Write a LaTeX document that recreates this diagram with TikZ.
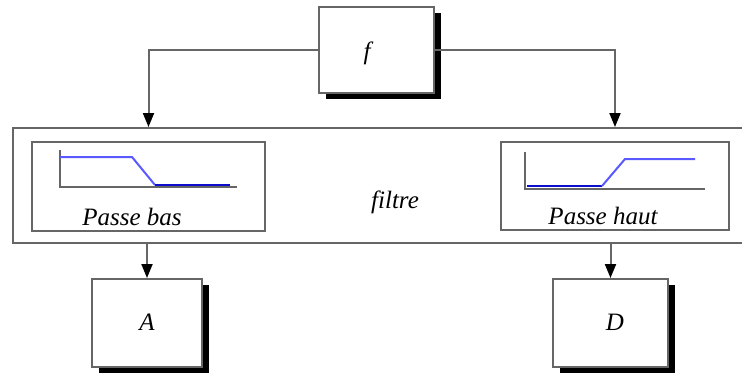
\documentclass[tikz,border=0pt]{standalone}
\usepackage{fontspec}
\setmainfont{Liberation Serif}
\usepackage{xcolor}
\definecolor{edge}{rgb}{0.4,0.4,0.4}
\definecolor{lightblue}{rgb}{0.35,0.35,1}
\definecolor{darkblue}{rgb}{0.05,0.05,0.8}
\usepackage{tikz}
\usetikzlibrary{arrows.meta, calc, positioning, shadows}

\tikzset{
  box/.style={draw=edge, line width=2pt, fill=white, inner sep=0pt},
  shadowbox/.style={box, drop shadow={shadow xshift=7pt, shadow yshift=-6pt, opacity=1, fill=black}},
  lbl/.style={font=\fontsize{25}{29}\selectfont\itshape, inner sep=0pt},
  arr/.style={draw=edge, line width=2pt, -{Triangle[black, length=14pt, width=11pt]}},
  axis/.style={draw=edge, line width=1.8pt},
}

\begin{document}
\begin{tikzpicture}[x=1pt, y=-1pt]
    \useasboundingbox (0,0) rectangle (742,376);
    \clip (0,0) rectangle (742,376);
    % signal block on top
    \node[shadowbox, minimum width=115pt, minimum height=86pt] (f) at (376.5,50) {};
    \node[lbl] (flabel) at (367,53) {f};
    % filter bank, runs out past the right border
    \node[box, fill=none, minimum width=750pt, minimum height=115pt] (filtre) at (388,185.5) {};
    \node[lbl] (filtrelabel) at (395,202) {filtre};
    \node[box, fill=none, minimum width=233pt, minimum height=89pt] (lowpass) at (148.5,186.5) {};
    \node[lbl] (lowlabel) at (132,217) {Passe bas};
    \node[box, fill=none, minimum width=228pt, minimum height=88pt] (highpass) at (615,186) {};
    \node[lbl] (highlabel) at (603,216) {Passe haut};
    % low pass response
    \draw[axis] (60,150) -- (60,187) -- (237,187);
    \draw[lightblue, line width=2pt] (60,157) -- (132,157) -- (155,185);
    \draw[darkblue, line width=2.8pt] (155,185) -- (230,185);
    % high pass response
    \draw[axis] (525,152) -- (525,189) -- (705,189);
    \draw[darkblue, line width=2.8pt] (527,186) -- (602,186);
    \draw[lightblue, line width=2pt] (602,186) -- (625,159) -- (695,159);
    % outputs
    \node[shadowbox, minimum width=110pt, minimum height=88pt] (A) at (147,323) {};
    \node[lbl] (Alabel) at (147,322) {A};
    \node[shadowbox, minimum width=115pt, minimum height=88pt] (D) at (610.5,323) {};
    \node[lbl] (Dlabel) at (615,322) {D};
    % connectors
    \draw[arr] (f.west) -| (lowpass.north |- filtre.north);
    \draw[arr] (f.east) -| (highpass.north |- filtre.north);
    \draw[arr] (A.north |- filtre.south) -- (A.north);
    \draw[arr] (D.north |- filtre.south) -- (D.north);
\end{tikzpicture}
\end{document}
